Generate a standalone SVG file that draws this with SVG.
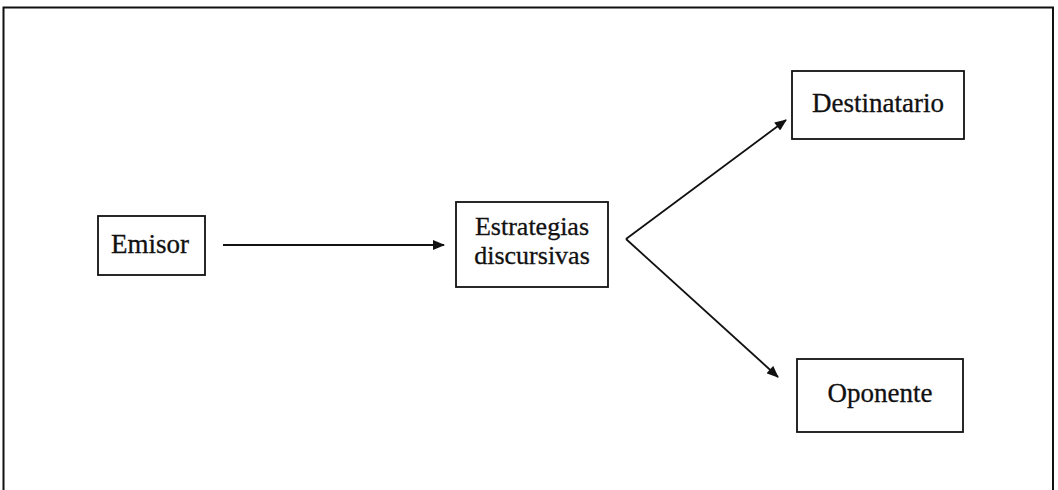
<svg xmlns="http://www.w3.org/2000/svg" width="1058" height="490" viewBox="0 0 1058 490">
  <style>
    .box { fill: #fff; stroke: #111; stroke-width: 1.8; }
    .lbl { font-family: "Liberation Serif", "Times New Roman", serif; font-size: 27px; fill: #111; stroke: #111; stroke-width: 0.3; text-anchor: middle; }
    .lbl2 { font-size: 26px; }
    .wire { stroke: #111; stroke-width: 1.8; fill: none; }
  </style>
  <defs>
    <marker id="head" viewBox="0 0 12 10" refX="11" refY="5" markerWidth="13" markerHeight="10" markerUnits="userSpaceOnUse" orient="auto">
      <path d="M0,0 L12,5 L0,10 z" fill="#111"/>
    </marker>
  </defs>
  <rect width="1058" height="490" fill="#fff"/>
  <!-- open frame: top, left and right edges -->
  <path d="M3.5,490 V7.5 H1053 V490" fill="none" stroke="#111" stroke-width="2"/>

  <g id="emisor">
    <rect class="box" x="98" y="216" width="107" height="59"/>
    <text class="lbl" x="150" y="253">Emisor</text>
  </g>
  <g id="estrategias">
    <rect class="box" x="456" y="202" width="152" height="85"/>
    <text class="lbl lbl2" x="532" y="235">Estrategias</text>
    <text class="lbl lbl2" x="532" y="264">discursivas</text>
  </g>
  <g id="destinatario">
    <rect class="box" x="792" y="71" width="172" height="68"/>
    <text class="lbl" x="878" y="112">Destinatario</text>
  </g>
  <g id="oponente">
    <rect class="box" x="797" y="359" width="166" height="73"/>
    <text class="lbl" x="880" y="402">Oponente</text>
  </g>

  <g id="connectors">
    <line class="wire" x1="223" y1="245" x2="444" y2="245" marker-end="url(#head)"/>
    <line class="wire" x1="626" y1="239" x2="786" y2="120" marker-end="url(#head)"/>
    <line class="wire" x1="626" y1="239" x2="778" y2="377" marker-end="url(#head)"/>
  </g>
</svg>
